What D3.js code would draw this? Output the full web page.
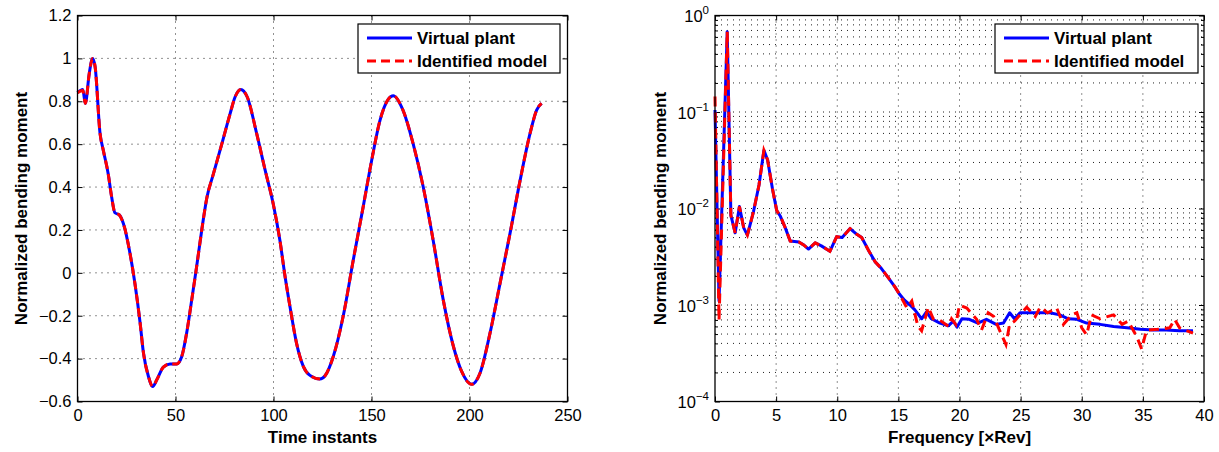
<!DOCTYPE html>
<html>
<head>
<meta charset="utf-8">
<script src="https://cdn.jsdelivr.net/npm/d3@7"></script>
<style>
  body { margin: 0; background: #fff; }
  svg { font-family: "Liberation Sans", Arial, Helvetica, sans-serif; }
  .grid line { stroke: #222; stroke-width: 1; stroke-dasharray: 1,5; }
  .tick text { font-size: 16.5px; fill: #000; }
  .tick line { stroke: #000; }
</style>
</head>
<body>
<div id="chart"></div>
<script>
// time response (time instant, normalized moment)
var timeInstants = [0, 2.7, 4, 6, 7.7, 9, 11.5, 13.2, 15.7, 17.4, 19.1, 21.3, 23.4, 26.8, 29.3, 31.9, 33.6, 36.1, 38.4, 40.4,
  43.8, 47.2, 50.6, 53.2, 55.7, 58.3, 60.8, 63.4, 66, 69.3, 73.6, 77.8, 80.4, 83.3, 86.6, 91.4, 95.7, 99.9, 103.3, 105.9,
  108.4, 111.8, 115.2, 118.6, 123.7, 126.3, 130.5, 135.6, 140.7, 145.8, 150.1, 154.3, 158.6, 161.1, 166, 171.3, 176.4,
  181.5, 186.6, 191.7, 196, 201.1, 205.4, 210.5, 215.6, 220.7, 225.8, 230.9, 234.3, 236.8];
var plantMoment = [0.84, 0.855, 0.79, 0.93, 1.0, 0.96, 0.65, 0.57, 0.46, 0.355, 0.28, 0.27, 0.23, 0.09, -0.05, -0.23, -0.37, -0.48, -0.53, -0.50,
  -0.44, -0.425, -0.425, -0.39, -0.28, -0.125, 0.03, 0.2, 0.35, 0.46, 0.6, 0.74, 0.82, 0.855, 0.82, 0.65, 0.48, 0.32, 0.15, -0.017,
  -0.157, -0.33, -0.436, -0.478, -0.495, -0.48, -0.39, -0.2, 0.06, 0.31, 0.525, 0.71, 0.81, 0.826, 0.76, 0.6, 0.40,
  0.15, -0.126, -0.34, -0.46, -0.52, -0.467, -0.28, -0.048, 0.185, 0.43, 0.65, 0.76, 0.79];
var modelMoment = [0.84, 0.85, 0.79, 0.93, 1.0, 0.96, 0.65, 0.57, 0.46, 0.355, 0.28, 0.27, 0.23, 0.09, -0.05, -0.23, -0.37, -0.48, -0.53, -0.50,
  -0.44, -0.425, -0.425, -0.39, -0.28, -0.125, 0.03, 0.2, 0.35, 0.46, 0.6, 0.74, 0.82, 0.855, 0.82, 0.65, 0.48, 0.32, 0.15, -0.017,
  -0.157, -0.33, -0.436, -0.478, -0.495, -0.48, -0.39, -0.2, 0.06, 0.31, 0.525, 0.71, 0.81, 0.826, 0.76, 0.6, 0.40,
  0.15, -0.126, -0.34, -0.46, -0.52, -0.467, -0.28, -0.048, 0.185, 0.43, 0.65, 0.76, 0.79];

// spectrum
var plantFreq = [0, 0.33, 1.0, 1.3, 1.65, 2.0, 2.35, 2.65, 3.15, 3.6, 4.0, 4.3, 4.7, 5.05, 5.35, 5.75, 6.15, 6.85, 7.25, 7.65,
  8.2, 8.7, 9.4, 9.95, 10.4, 11.05, 11.6, 12.0, 12.55, 13.1, 13.6, 14.2, 14.7, 15.1, 15.5, 15.95, 16.35, 16.9, 17.3, 17.7,
  18.4, 19.1, 19.5, 19.8, 20.2, 20.8, 21.5, 22.2, 23.0, 23.6, 24.1, 24.5, 24.95, 25.8, 26.6, 27.4, 28.2, 28.9, 29.6, 30.4,
  31.5, 32.6, 33.7, 34.8, 35.85, 36.9, 38.0, 39.1];
var plantMag = [0.105, 0.0011, 0.68, 0.0085, 0.0056, 0.0105, 0.0063, 0.0053, 0.0093, 0.0175, 0.040, 0.032, 0.016, 0.0095, 0.0083, 0.0063, 0.0046, 0.0045, 0.0042, 0.0038,
  0.0044, 0.0041, 0.0036, 0.0051, 0.0050, 0.0062, 0.0054, 0.0050, 0.0037, 0.0028, 0.0024, 0.0019, 0.00155, 0.00129, 0.00112, 0.00100, 0.00089, 0.00072, 0.00085, 0.00072,
  0.00065, 0.00061, 0.00068, 0.00059, 0.00072, 0.00071, 0.00065, 0.00071, 0.00063, 0.00065, 0.00083, 0.00072, 0.00083, 0.00083, 0.00083, 0.00083, 0.00079, 0.00072, 0.00071, 0.00065,
  0.00063, 0.00060, 0.00058, 0.00056, 0.00055, 0.00055, 0.00054, 0.00054];
var modelFreq = [0, 0.33, 1.0, 1.3, 1.65, 2.0, 2.35, 2.65, 3.15, 3.6, 4.0, 4.3, 4.7, 5.05, 5.35, 5.75, 6.15, 6.85, 7.25, 7.65,
  8.2, 8.7, 9.4, 9.95, 10.4, 11.05, 11.6, 12.0, 12.55, 13.1, 13.6, 14.2, 14.7, 15.1, 15.7, 16.1, 16.6, 16.9, 17.45, 17.85,
  18.3, 19.1, 19.35, 19.7, 20.0, 20.6, 21.4, 21.8, 22.35, 22.8, 23.3, 23.8, 24.1, 24.5, 25.5, 26.2, 26.6, 27.2, 27.95, 28.5,
  29.2, 29.6, 30.0, 30.4, 30.8, 31.5, 32.6, 33.3, 33.8, 34.5, 34.9, 35.3, 36.2, 37.2, 37.6, 38.0, 39.1];
var modelMag = [0.145, 0.0007, 0.68, 0.0085, 0.0056, 0.0105, 0.0063, 0.0053, 0.0093, 0.0175, 0.040, 0.032, 0.016, 0.0095, 0.0083, 0.0063, 0.0046, 0.0045, 0.0042, 0.0038,
  0.0044, 0.0041, 0.0036, 0.0051, 0.0050, 0.0062, 0.0054, 0.0050, 0.0037, 0.0028, 0.0024, 0.0019, 0.00155, 0.00129, 0.00093, 0.00110, 0.00060, 0.00054, 0.00095, 0.00072,
  0.00071, 0.00060, 0.00072, 0.00063, 0.00100, 0.00093, 0.00071, 0.00055, 0.00083, 0.00076, 0.00054, 0.00039, 0.00063, 0.00068, 0.00095, 0.00076, 0.00095, 0.00083, 0.00093, 0.00063,
  0.00079, 0.00083, 0.00058, 0.00049, 0.00079, 0.00072, 0.00079, 0.00063, 0.00068, 0.00047, 0.00035, 0.00055, 0.00056, 0.00058, 0.00071, 0.00058, 0.00051];

var leftXTicks = [0, 50, 100, 150, 200, 250];
var leftYTicks = [-0.6, -0.4, -0.2, 0, 0.2, 0.4, 0.6, 0.8, 1, 1.2];
var rightXTicks = [0, 5, 10, 15, 20, 25, 30, 35, 40];
var rightYExponents = [-4, -3, -2, -1, 0];
var legendNames = ["Virtual plant", "Identified model"];

var W = 1219, H = 452;
var svg = d3.select("#chart").append("svg").attr("width", W).attr("height", H);

function zip(xs, ys) { return xs.map(function (x, i) { return [x, ys[i]]; }); }

// left panel: linear axes
(function () {
  var left = 77.5, top = 15.5, w = 490, h = 386;
  var g = svg.append("g").attr("transform", "translate(" + left + "," + top + ")");
  var x = d3.scaleLinear().domain([0, 250]).range([0, w]);
  var y = d3.scaleLinear().domain([-0.6, 1.2]).range([h, 0]);
  var fmt = d3.format("~g");

  var grid = g.append("g").attr("class", "grid");
  grid.selectAll(".gx").data(leftXTicks.slice(1, -1)).enter().append("line")
    .attr("x1", x).attr("x2", x).attr("y1", 0).attr("y2", h);
  grid.selectAll(".gy").data(leftYTicks.slice(1, -1)).enter().append("line")
    .attr("y1", y).attr("y2", y).attr("x1", 0).attr("x2", w);

  g.append("g").attr("transform", "translate(0," + h + ")")
    .call(d3.axisBottom(x).tickValues(leftXTicks).tickSize(-5).tickPadding(8).tickFormat(fmt))
    .call(function (a) { a.select(".domain").remove(); });
  g.append("g").call(d3.axisTop(x).tickValues(leftXTicks).tickSize(-5).tickFormat(""))
    .call(function (a) { a.select(".domain").remove(); });
  g.append("g").call(d3.axisLeft(y).tickValues(leftYTicks).tickSize(-5).tickPadding(6).tickFormat(fmt))
    .call(function (a) { a.select(".domain").remove(); });
  g.append("g").attr("transform", "translate(" + w + ",0)")
    .call(d3.axisRight(y).tickValues(leftYTicks).tickSize(-5).tickFormat(""))
    .call(function (a) { a.select(".domain").remove(); });
  g.selectAll(".tick text").attr("font-family", null).attr("font-size", null);

  var line = d3.line().x(function (d) { return x(d[0]); }).y(function (d) { return y(d[1]); })
    .curve(d3.curveMonotoneX);
  g.append("path").datum(zip(timeInstants, plantMoment)).attr("d", line)
    .attr("fill", "none").attr("stroke", "#0000ff").attr("stroke-width", 3);
  g.append("path").datum(zip(timeInstants, modelMoment)).attr("d", line)
    .attr("fill", "none").attr("stroke", "#ff0000").attr("stroke-width", 3).attr("stroke-dasharray", "9,5");

  g.append("rect").attr("width", w).attr("height", h).attr("fill", "none").attr("stroke", "#000").attr("stroke-width", 1.3);

  svg.append("text").attr("x", left + w / 2).attr("y", 443).attr("text-anchor", "middle")
    .attr("font-weight", "bold").attr("font-size", 17).text("Time instants");
  svg.append("text").attr("transform", "translate(27," + (top + h / 2) + ") rotate(-90)").attr("text-anchor", "middle")
    .attr("font-weight", "bold").attr("font-size", 17).text("Normalized bending moment");

  drawLegend(358, 24, 202);
})();

// right panel: log y axis
(function () {
  var left = 715, top = 15.5, w = 489, h = 386;
  var g = svg.append("g").attr("transform", "translate(" + left + "," + top + ")");
  var x = d3.scaleLinear().domain([0, 40]).range([0, w]);
  var y = d3.scaleLog().domain([1e-4, 1]).range([h, 0]);
  var decades = rightYExponents.map(function (e) { return Math.pow(10, e); });
  var minors = [];
  rightYExponents.slice(0, -1).forEach(function (e) {
    for (var k = 2; k <= 9; k++) minors.push(k * Math.pow(10, e));
  });

  var grid = g.append("g").attr("class", "grid");
  grid.selectAll(".gx").data(rightXTicks.slice(1, -1)).enter().append("line")
    .attr("x1", x).attr("x2", x).attr("y1", 0).attr("y2", h);
  grid.selectAll(".gy").data(decades.slice(1, -1).concat(minors)).enter().append("line")
    .attr("y1", y).attr("y2", y).attr("x1", 0).attr("x2", w);

  g.append("g").attr("transform", "translate(0," + h + ")")
    .call(d3.axisBottom(x).tickValues(rightXTicks).tickSize(-5).tickPadding(8).tickFormat(d3.format("d")))
    .call(function (a) { a.select(".domain").remove(); });
  g.append("g").call(d3.axisTop(x).tickValues(rightXTicks).tickSize(-5).tickFormat(""))
    .call(function (a) { a.select(".domain").remove(); });
  var yl = g.append("g").call(d3.axisLeft(y).tickValues(decades).tickSize(-5).tickPadding(6).tickFormat(""))
    .call(function (a) { a.select(".domain").remove(); });
  g.append("g").call(d3.axisLeft(y).tickValues(minors).tickSize(-3).tickFormat(""))
    .call(function (a) { a.select(".domain").remove(); });
  g.append("g").attr("transform", "translate(" + w + ",0)")
    .call(d3.axisRight(y).tickValues(decades).tickSize(-5).tickFormat(""))
    .call(function (a) { a.select(".domain").remove(); });
  g.append("g").attr("transform", "translate(" + w + ",0)")
    .call(d3.axisRight(y).tickValues(minors).tickSize(-3).tickFormat(""))
    .call(function (a) { a.select(".domain").remove(); });
  g.selectAll(".tick text").attr("font-family", null).attr("font-size", null);

  // power-of-ten labels with superscript exponents
  yl.selectAll(".tick").each(function (d, i) {
    var t = d3.select(this).append("text").attr("x", -6).attr("y", 6).attr("fill", "#000")
      .attr("text-anchor", "end").style("font-size", "16.5px");
    t.append("tspan").text("10");
    var e = rightYExponents[i];
    t.append("tspan").attr("dy", -8).style("font-size", "11.5px").text(e === 0 ? "0" : "\u2212" + Math.abs(e));
  });

  var line = d3.line().x(function (d) { return x(d[0]); }).y(function (d) { return y(d[1]); });
  g.append("path").datum(zip(plantFreq, plantMag)).attr("d", line)
    .attr("fill", "none").attr("stroke", "#0000ff").attr("stroke-width", 3).attr("stroke-linejoin", "round");
  g.append("path").datum(zip(modelFreq, modelMag)).attr("d", line)
    .attr("fill", "none").attr("stroke", "#ff0000").attr("stroke-width", 3).attr("stroke-dasharray", "10,6");

  g.append("rect").attr("width", w).attr("height", h).attr("fill", "none").attr("stroke", "#000").attr("stroke-width", 1.3);

  svg.append("text").attr("x", left + w / 2).attr("y", 443).attr("text-anchor", "middle")
    .attr("font-weight", "bold").attr("font-size", 17).text("Frequency [\u00d7Rev]");
  svg.append("text").attr("transform", "translate(666," + (top + h / 2) + ") rotate(-90)").attr("text-anchor", "middle")
    .attr("font-weight", "bold").attr("font-size", 17).text("Normalized bending moment");

  drawLegend(995, 24, 203);
})();

function drawLegend(lx, ly, lw) {
  var g = svg.append("g").attr("transform", "translate(" + lx + "," + ly + ")");
  g.append("rect").attr("width", lw).attr("height", 49).attr("fill", "#fff").attr("stroke", "#000").attr("stroke-width", 1.2);
  var styles = [{ c: "#0000ff", d: null }, { c: "#ff0000", d: "9,5" }];
  legendNames.forEach(function (name, i) {
    var yy = 14 + i * 23;
    g.append("line").attr("x1", 9).attr("x2", 54).attr("y1", yy).attr("y2", yy)
      .attr("stroke", styles[i].c).attr("stroke-width", 3).attr("stroke-dasharray", styles[i].d);
    g.append("text").attr("x", 59).attr("y", yy + 5.5).attr("font-weight", "bold").attr("font-size", 17).text(name);
  });
}
</script>
</body>
</html>
